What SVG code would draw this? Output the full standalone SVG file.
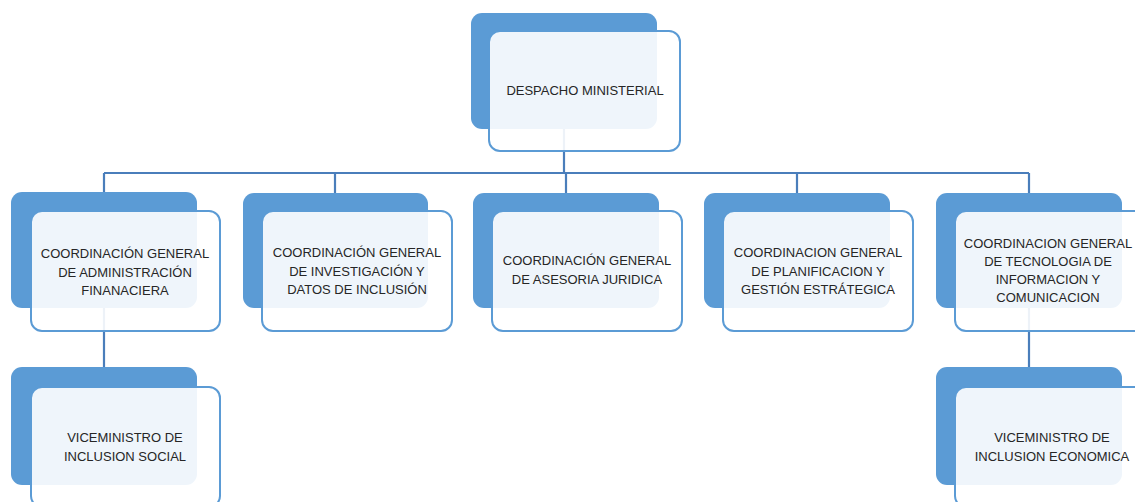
<svg xmlns="http://www.w3.org/2000/svg" width="1135" height="502" viewBox="0 0 1135 502">
<style>
.back{fill:#5b9bd5;}
.front{fill:#ffffff;fill-opacity:0.9;stroke:#5b9bd5;stroke-width:2;}
.lbl{font-family:"Liberation Sans",Arial,sans-serif;font-size:13px;fill:#262626;text-anchor:middle;}
.conn{fill:none;stroke:#4a7ebb;stroke-width:2.2;}
</style>
<rect width="1135" height="502" fill="#ffffff"/>
<g id="connectors">
<path class="conn" d="M564 129 V173 M104 173 H1029 M104 173 V192 M335 173 V193 M566 173 V193 M797 173 V193 M1029 173 V193"/>
<path class="conn" d="M104 308 V367 M1029 308 V367"/>
</g>
<g id="n-despacho">
<rect class="back" x="471" y="13" width="186" height="116" rx="11"/>
<rect class="front" x="489" y="31" width="191" height="120" rx="11"/>
<text class="lbl" x="585" y="95">DESPACHO MINISTERIAL</text>
</g>
<g id="n-admin">
<rect class="back" x="11" y="192" width="186" height="116" rx="11"/>
<rect class="front" x="31" y="211" width="189" height="120" rx="11"/>
<text class="lbl" x="125" y="258"><tspan x="125">COORDINACIÓN GENERAL</tspan><tspan x="125" dy="18.5">DE ADMINISTRACIÓN</tspan><tspan x="125" dy="18.5">FINANACIERA</tspan></text>
</g>
<g id="n-investigacion">
<rect class="back" x="243" y="193" width="185" height="115" rx="11"/>
<rect class="front" x="262" y="211" width="190" height="120" rx="11"/>
<text class="lbl" x="357" y="257"><tspan x="357">COORDINACIÓN GENERAL</tspan><tspan x="357" dy="18.5">DE INVESTIGACIÓN Y</tspan><tspan x="357" dy="18.5">DATOS DE INCLUSIÓN</tspan></text>
</g>
<g id="n-juridica">
<rect class="back" x="473" y="193" width="186" height="115" rx="11"/>
<rect class="front" x="492" y="211" width="190" height="120" rx="11"/>
<text class="lbl" x="587" y="265"><tspan x="587">COORDINACIÓN GENERAL</tspan><tspan x="587" dy="18.5">DE ASESORIA JURIDICA</tspan></text>
</g>
<g id="n-planificacion">
<rect class="back" x="704" y="193" width="186" height="115" rx="11"/>
<rect class="front" x="723" y="211" width="190" height="120" rx="11"/>
<text class="lbl" x="818" y="257"><tspan x="818">COORDINACION GENERAL</tspan><tspan x="818" dy="18.5">DE PLANIFICACION Y</tspan><tspan x="818" dy="18.5">GESTIÓN ESTRÁTEGICA</tspan></text>
</g>
<g id="n-tecnologia">
<rect class="back" x="936" y="193" width="186" height="115" rx="11"/>
<rect class="front" x="955" y="211" width="190" height="120" rx="11"/>
<text class="lbl" x="1048" y="248"><tspan x="1048">COORDINACION GENERAL</tspan><tspan x="1048" dy="18">DE TECNOLOGIA DE</tspan><tspan x="1048" dy="18">INFORMACION Y</tspan><tspan x="1048" dy="18">COMUNICACION</tspan></text>
</g>
<g id="n-vice-social">
<rect class="back" x="11" y="367" width="186" height="118" rx="11"/>
<rect class="front" x="31" y="387" width="189" height="120" rx="11"/>
<text class="lbl" x="125" y="442"><tspan x="125">VICEMINISTRO DE</tspan><tspan x="125" dy="18.5">INCLUSION SOCIAL</tspan></text>
</g>
<g id="n-vice-economica">
<rect class="back" x="936" y="367" width="186" height="118" rx="11"/>
<rect class="front" x="955" y="387" width="190" height="120" rx="11"/>
<text class="lbl" x="1052" y="442"><tspan x="1052">VICEMINISTRO DE</tspan><tspan x="1052" dy="18.5">INCLUSION ECONOMICA</tspan></text>
</g>
</svg>
